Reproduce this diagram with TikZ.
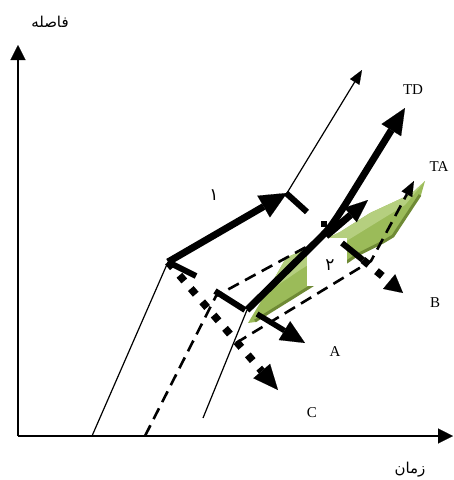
\documentclass[tikz,border=0pt]{standalone}
\usepackage{fontspec}
\setmainfont{Liberation Serif}
\newfontfamily\arabicfont[Script=Arabic]{DejaVu Sans}
\TeXXeTstate=1
\usetikzlibrary{arrows.meta}
\definecolor{gmid}{HTML}{9BBB59}
\definecolor{glight}{HTML}{B5CF7F}
\definecolor{gdark}{HTML}{6F8A35}
\begin{document}
\begin{tikzpicture}[x=1pt,y=-1pt,
  axis/.style={line width=2.5pt,-{Triangle[length=15pt,width=15pt,line width=0.1pt]}},
  thinln/.style={line width=1.2pt},
  thickln/.style={line width=7pt},
  stubln/.style={line width=6pt},
  dashln/.style={line width=2.6pt,dash pattern=on 12pt off 7pt},
  dotln/.style={line width=7.5pt,dash pattern=on 7.5pt off 10pt},
  lbl/.style={font=\fontsize{15}{17}\selectfont},
  arlbl/.style={font=\arabicfont\fontsize{15}{17}\selectfont},
  arnum/.style={font=\arabicfont\fontsize{17}{19}\selectfont}]
\useasboundingbox (0,0) rectangle (454,480);
% coordinates
\coordinate (O) at (18,436);
\coordinate (Ytop) at (18,45);
\coordinate (Xend) at (453,436);
\coordinate (a0) at (92,436);
\coordinate (k1) at (168,262);
\coordinate (p1) at (287,193);
\coordinate (t1) at (362,70);
\coordinate (s1a) at (286,193);
\coordinate (s1b) at (307,212);
\coordinate (k1s) at (196,276);
\coordinate (b0) at (203,418);
\coordinate (j2) at (247,310);
\coordinate (j2a) at (215,291);
\coordinate (j2b) at (245,310);
\coordinate (td1) at (318,240);
\coordinate (td2) at (330,228);
\coordinate (td3) at (345,205);
\coordinate (tdTip) at (405,108);
\coordinate (br2) at (326,236);
\coordinate (a2tip) at (368,200);
\coordinate (aS) at (257,314);
\coordinate (aTip) at (305,343);
\coordinate (cTip) at (278,390);
\coordinate (sBa) at (342,243);
\coordinate (sBb) at (363,260);
\coordinate (bTip) at (403,293);
\coordinate (d1a) at (145,436);
\coordinate (d1b) at (216,296);
\coordinate (d1c) at (330,234);
\coordinate (d2a) at (236,343);
\coordinate (d2b) at (371,261);
\coordinate (d2tip) at (414,181);
% green block arrow
\fill[gmid] (248,323) -- (266,293) -- (286,258) -- (340,232) -- (370,213) -- (411,194) -- (425,181)
  -- (421,195) -- (393,237) -- (383,243) -- (357,256) -- (316,284) -- (255,322) -- cycle;
\fill[glight] (266,293) -- (286,258) -- (340,232) -- (370,213) -- (411,194) -- (425,181) -- (405,205) -- (340,245) -- (300,270) -- cycle;
\draw[gdark,line width=3pt,line join=round] (255,321) -- (316,283) -- (357,255) -- (383,242) -- (393,236) -- (420,195);
% white label box
\fill[white] (307,238) rectangle (347,286);
% dashed lines
\draw[dashln] (d1a) -- (d1b) -- (d1c);
\draw[dashln,-{Triangle[length=15pt,width=12pt,line width=0.1pt]}] (d2a) -- (d2b) -- (d2tip);
% axes
\draw[axis] (O) -- (Ytop);
\draw[axis] (O) -- (Xend);
% thin lines
\draw[thinln] (a0) -- (k1);
\draw[thinln] (b0) -- (j2);
\draw[thinln,-{Triangle[length=14pt,width=11pt,line width=0.1pt]}] (p1) -- (t1);
% dotted arrows
\draw[dotln,-{Triangle[length=25pt,width=22pt,line width=0.1pt]}] (k1) -- (cTip);
\draw[dotln,-{Triangle[length=18pt,width=19pt,line width=0.1pt]}] (sBb) -- (bTip);
\fill (321,221) rectangle (327,227);
% stubs
\draw[stubln] (k1) -- (k1s);
\draw[stubln] (s1a) -- (s1b);
\draw[stubln] (j2a) -- (j2b);
\draw[stubln] (sBa) -- (sBb);
% thick arrows
\draw[thickln,-{Triangle[length=27pt,width=25pt,line width=0.1pt]}] (k1) -- (p1);
\draw[thickln,-{Triangle[length=26pt,width=23pt,line width=0.1pt]}] (j2) -- (td1) .. controls (td2) .. (td3) -- (tdTip);
\draw[thickln,-{Triangle[length=23pt,width=19pt,line width=0.1pt]}] (br2) -- (a2tip);
\draw[line width=5.5pt,-{Triangle[length=24pt,width=22pt,line width=0.1pt]}] (aS) -- (aTip);
% labels
\node[lbl] (lTD) at (413,90) {TD};
\node[lbl] (lTA) at (439,167) {TA};
\node[lbl] (lB) at (435,303) {B};
\node[lbl] (lA) at (335,352) {A};
\node[lbl] (lC) at (312,413) {C};
\node[arnum] (l1) at (214,195) {\beginR ١\endR};
\node[arnum] (l2) at (330,265) {\beginR ٢\endR};
\node[arlbl] (ly) at (50,22) {\beginR فاصله\endR};
\node[arlbl] (lx) at (410,470) {\beginR زمان\endR};
\end{tikzpicture}
\end{document}
